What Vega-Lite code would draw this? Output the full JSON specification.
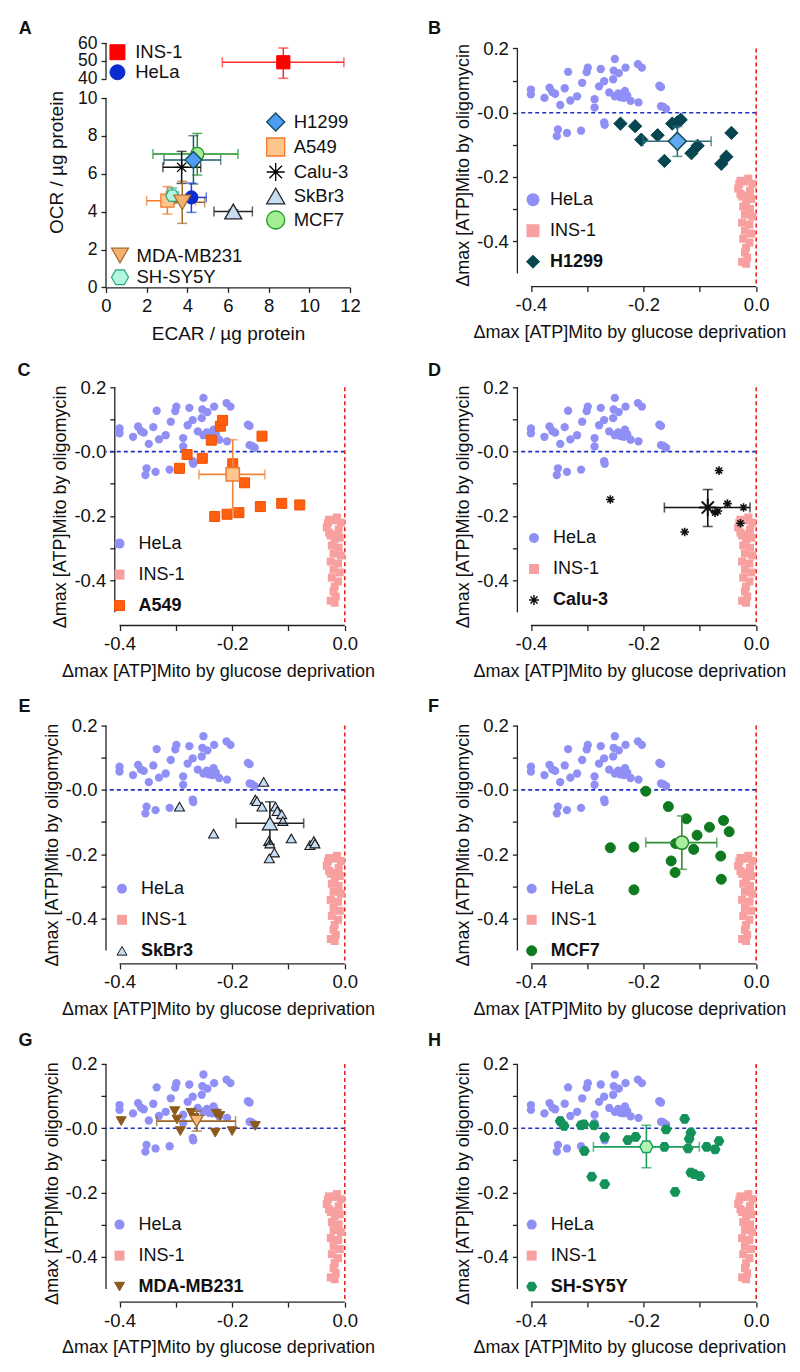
{
"$schema": "https://vega.github.io/schema/vega-lite/v6.json",
"background": "white",
"padding": {"left": 17, "top": 19, "right": 5, "bottom": 5},
"datasets": {
"hela": [
{"cell":"HeLa","x":-0.4,"y":0.072},{"cell":"HeLa","x":-0.4,"y":0.057},{"cell":"HeLa","x":-0.376,"y":0.046},{"cell":"HeLa","x":-0.367,"y":0.078},{"cell":"HeLa","x":-0.362,"y":0.064},{"cell":"HeLa","x":-0.357,"y":0.059},{"cell":"HeLa","x":-0.348,"y":0.024},{"cell":"HeLa","x":-0.34,"y":0.076},{"cell":"HeLa","x":-0.334,"y":0.127},{"cell":"HeLa","x":-0.33,"y":0.038},{"cell":"HeLa","x":-0.318,"y":0.051},{"cell":"HeLa","x":-0.309,"y":0.093},{"cell":"HeLa","x":-0.301,"y":0.126},{"cell":"HeLa","x":-0.299,"y":0.14},{"cell":"HeLa","x":-0.287,"y":0.042},{"cell":"HeLa","x":-0.287,"y":0.016},{"cell":"HeLa","x":-0.279,"y":0.082},{"cell":"HeLa","x":-0.276,"y":0.136},{"cell":"HeLa","x":-0.27,"y":0.098},{"cell":"HeLa","x":-0.261,"y":0.063},{"cell":"HeLa","x":-0.254,"y":0.104},{"cell":"HeLa","x":-0.251,"y":0.167},{"cell":"HeLa","x":-0.253,"y":0.131},{"cell":"HeLa","x":-0.251,"y":0.051},{"cell":"HeLa","x":-0.244,"y":0.123},{"cell":"HeLa","x":-0.241,"y":0.048},{"cell":"HeLa","x":-0.235,"y":0.046},{"cell":"HeLa","x":-0.232,"y":0.14},{"cell":"HeLa","x":-0.233,"y":0.068},{"cell":"HeLa","x":-0.229,"y":0.054},{"cell":"HeLa","x":-0.223,"y":0.037},{"cell":"HeLa","x":-0.21,"y":0.151},{"cell":"HeLa","x":-0.203,"y":0.14},{"cell":"HeLa","x":-0.209,"y":0.032},{"cell":"HeLa","x":-0.172,"y":0.084},{"cell":"HeLa","x":-0.169,"y":0.08},{"cell":"HeLa","x":-0.169,"y":0.02},{"cell":"HeLa","x":-0.165,"y":0.018},{"cell":"HeLa","x":-0.16,"y":0.012},{"cell":"HeLa","x":-0.27,"y":-0.03},{"cell":"HeLa","x":-0.269,"y":-0.038},{"cell":"HeLa","x":-0.352,"y":-0.052},{"cell":"HeLa","x":-0.354,"y":-0.073},{"cell":"HeLa","x":-0.336,"y":-0.063},{"cell":"HeLa","x":-0.311,"y":-0.056},{"cell":"HeLa","x":-0.245,"y":0.06},{"cell":"HeLa","x":-0.236,"y":0.058}
],
"ins1": [
{"cell":"INS-1","x":-0.028,"y":-0.212},{"cell":"INS-1","x":-0.014,"y":-0.205},{"cell":"INS-1","x":-0.007,"y":-0.221},{"cell":"INS-1","x":-0.032,"y":-0.236},{"cell":"INS-1","x":-0.011,"y":-0.243},{"cell":"INS-1","x":-0.025,"y":-0.261},{"cell":"INS-1","x":-0.009,"y":-0.268},{"cell":"INS-1","x":-0.018,"y":-0.274},{"cell":"INS-1","x":-0.023,"y":-0.292},{"cell":"INS-1","x":-0.011,"y":-0.299},{"cell":"INS-1","x":-0.02,"y":-0.317},{"cell":"INS-1","x":-0.007,"y":-0.323},{"cell":"INS-1","x":-0.025,"y":-0.342},{"cell":"INS-1","x":-0.012,"y":-0.348},{"cell":"INS-1","x":-0.02,"y":-0.367},{"cell":"INS-1","x":-0.009,"y":-0.376},{"cell":"INS-1","x":-0.023,"y":-0.392},{"cell":"INS-1","x":-0.012,"y":-0.404},{"cell":"INS-1","x":-0.018,"y":-0.42},{"cell":"INS-1","x":-0.02,"y":-0.435},{"cell":"INS-1","x":-0.016,"y":-0.451},{"cell":"INS-1","x":-0.025,"y":-0.464},{"cell":"INS-1","x":-0.018,"y":-0.47},{"cell":"INS-1","x":-0.03,"y":-0.222},{"cell":"INS-1","x":-0.021,"y":-0.214},{"cell":"INS-1","x":-0.028,"y":-0.252},{"cell":"INS-1","x":-0.016,"y":-0.258}
],
"lines": [
{"cell":"H1299","x":-0.241,"y":-0.034},{"cell":"H1299","x":-0.215,"y":-0.042},{"cell":"H1299","x":-0.204,"y":-0.084},{"cell":"H1299","x":-0.175,"y":-0.07},{"cell":"H1299","x":-0.163,"y":-0.15},{"cell":"H1299","x":-0.149,"y":-0.034},{"cell":"H1299","x":-0.14,"y":-0.03},{"cell":"H1299","x":-0.134,"y":-0.022},{"cell":"H1299","x":-0.115,"y":-0.126},{"cell":"H1299","x":-0.104,"y":-0.103},{"cell":"H1299","x":-0.062,"y":-0.159},{"cell":"H1299","x":-0.053,"y":-0.137},{"cell":"H1299","x":-0.044,"y":-0.063},
{"cell":"A549","x":-0.2935,"y":-0.052},{"cell":"A549","x":-0.28,"y":-0.009},{"cell":"A549","x":-0.253,"y":-0.021},{"cell":"A549","x":-0.237,"y":0.0355},{"cell":"A549","x":-0.221,"y":0.079},{"cell":"A549","x":-0.217,"y":0.097},{"cell":"A549","x":-0.199,"y":-0.038},{"cell":"A549","x":-0.178,"y":-0.097},{"cell":"A549","x":-0.147,"y":0.048},{"cell":"A549","x":-0.231,"y":-0.202},{"cell":"A549","x":-0.209,"y":-0.195},{"cell":"A549","x":-0.188,"y":-0.19},{"cell":"A549","x":-0.15,"y":-0.171},{"cell":"A549","x":-0.112,"y":-0.161},{"cell":"A549","x":-0.08,"y":-0.166},
{"cell":"Calu-3","x":-0.259,"y":-0.149},{"cell":"Calu-3","x":-0.127,"y":-0.25},{"cell":"Calu-3","x":-0.066,"y":-0.059},{"cell":"Calu-3","x":-0.051,"y":-0.162},{"cell":"Calu-3","x":-0.073,"y":-0.19},{"cell":"Calu-3","x":-0.068,"y":-0.185},{"cell":"Calu-3","x":-0.0225,"y":-0.174},{"cell":"Calu-3","x":-0.028,"y":-0.223},
{"cell":"SkBr3","x":-0.2935,"y":-0.052},{"cell":"SkBr3","x":-0.233,"y":-0.136},{"cell":"SkBr3","x":-0.144,"y":0.025},{"cell":"SkBr3","x":-0.159,"y":-0.03},{"cell":"SkBr3","x":-0.156,"y":-0.035},{"cell":"SkBr3","x":-0.147,"y":-0.052},{"cell":"SkBr3","x":-0.123,"y":-0.052},{"cell":"SkBr3","x":-0.12,"y":-0.066},{"cell":"SkBr3","x":-0.112,"y":-0.076},{"cell":"SkBr3","x":-0.11,"y":-0.097},{"cell":"SkBr3","x":-0.095,"y":-0.151},{"cell":"SkBr3","x":-0.135,"y":-0.159},{"cell":"SkBr3","x":-0.133,"y":-0.167},{"cell":"SkBr3","x":-0.125,"y":-0.195},{"cell":"SkBr3","x":-0.134,"y":-0.213},{"cell":"SkBr3","x":-0.062,"y":-0.172},{"cell":"SkBr3","x":-0.055,"y":-0.159},{"cell":"SkBr3","x":-0.053,"y":-0.167},
{"cell":"MCF7","x":-0.196,"y":-0.004},{"cell":"MCF7","x":-0.156,"y":-0.052},{"cell":"MCF7","x":-0.124,"y":-0.09},{"cell":"MCF7","x":-0.083,"y":-0.116},{"cell":"MCF7","x":-0.058,"y":-0.095},{"cell":"MCF7","x":-0.048,"y":-0.13},{"cell":"MCF7","x":-0.105,"y":-0.141},{"cell":"MCF7","x":-0.111,"y":-0.185},{"cell":"MCF7","x":-0.151,"y":-0.221},{"cell":"MCF7","x":-0.144,"y":-0.257},{"cell":"MCF7","x":-0.259,"y":-0.18},{"cell":"MCF7","x":-0.217,"y":-0.178},{"cell":"MCF7","x":-0.217,"y":-0.311},{"cell":"MCF7","x":-0.063,"y":-0.206},{"cell":"MCF7","x":-0.062,"y":-0.278},{"cell":"MCF7","x":-0.143,"y":-0.167},
{"cell":"MDA-MB231","x":-0.397,"y":0.022},{"cell":"MDA-MB231","x":-0.302,"y":0.053},{"cell":"MDA-MB231","x":-0.298,"y":0.027},{"cell":"MDA-MB231","x":-0.292,"y":-0.009},{"cell":"MDA-MB231","x":-0.273,"y":0.048},{"cell":"MDA-MB231","x":-0.268,"y":0.032},{"cell":"MDA-MB231","x":-0.228,"y":0.045},{"cell":"MDA-MB231","x":-0.23,"y":-0.014},{"cell":"MDA-MB231","x":-0.2,"y":-0.009},{"cell":"MDA-MB231","x":-0.159,"y":0.007},{"cell":"MDA-MB231","x":-0.222,"y":0.038},
{"cell":"SH-SY5Y","x":-0.348,"y":0.022},{"cell":"SH-SY5Y","x":-0.341,"y":0.007},{"cell":"SH-SY5Y","x":-0.311,"y":0.009},{"cell":"SH-SY5Y","x":-0.306,"y":0.012},{"cell":"SH-SY5Y","x":-0.288,"y":0.009},{"cell":"SH-SY5Y","x":-0.305,"y":-0.071},{"cell":"SH-SY5Y","x":-0.292,"y":-0.151},{"cell":"SH-SY5Y","x":-0.269,"y":-0.028},{"cell":"SH-SY5Y","x":-0.269,"y":-0.174},{"cell":"SH-SY5Y","x":-0.228,"y":-0.037},{"cell":"SH-SY5Y","x":-0.214,"y":-0.027},{"cell":"SH-SY5Y","x":-0.16,"y":-0.004},{"cell":"SH-SY5Y","x":-0.163,"y":-0.058},{"cell":"SH-SY5Y","x":-0.144,"y":-0.198},{"cell":"SH-SY5Y","x":-0.127,"y":0.029},{"cell":"SH-SY5Y","x":-0.116,"y":-0.014},{"cell":"SH-SY5Y","x":-0.119,"y":-0.033},{"cell":"SH-SY5Y","x":-0.121,"y":-0.063},{"cell":"SH-SY5Y","x":-0.116,"y":-0.138},{"cell":"SH-SY5Y","x":-0.11,"y":-0.143},{"cell":"SH-SY5Y","x":-0.1,"y":-0.149},{"cell":"SH-SY5Y","x":-0.088,"y":-0.058},{"cell":"SH-SY5Y","x":-0.073,"y":-0.066},{"cell":"SH-SY5Y","x":-0.066,"y":-0.04}
],
"means": [
{"cell":"H1299","x":-0.14,"y":-0.089,"xlo":-0.201,"xhi":-0.08,"ylo":-0.136,"yhi":-0.043},
{"cell":"A549","x":-0.199,"y":-0.071,"xlo":-0.259,"xhi":-0.142,"ylo":-0.179,"yhi":0.037},
{"cell":"Calu-3","x":-0.086,"y":-0.174,"xlo":-0.163,"xhi":-0.011,"ylo":-0.233,"yhi":-0.118},
{"cell":"SkBr3","x":-0.133,"y":-0.104,"xlo":-0.193,"xhi":-0.073,"ylo":-0.169,"yhi":-0.037},
{"cell":"MCF7","x":-0.132,"y":-0.164,"xlo":-0.196,"xhi":-0.07,"ylo":-0.247,"yhi":-0.081},
{"cell":"MDA-MB231","x":-0.263,"y":0.022,"xlo":-0.334,"xhi":-0.194,"ylo":-0.009,"yhi":0.053},
{"cell":"SH-SY5Y","x":-0.195,"y":-0.058,"xlo":-0.289,"xhi":-0.101,"ylo":-0.123,"yhi":0.009}
],
"summary": [
{"cell":"INS-1","x":8.72,"y":49.2,"xlo":5.72,"xhi":11.7,"ylo":40.2,"yhi":57.2},
{"cell":"HeLa","x":4.2,"y":4.75,"xlo":3.43,"xhi":4.93,"ylo":3.96,"yhi":5.51},
{"cell":"H1299","x":4.3,"y":6.73,"xlo":2.85,"xhi":5.64,"ylo":5.46,"yhi":8.01},
{"cell":"A549","x":3.02,"y":4.58,"xlo":2.0,"xhi":4.41,"ylo":3.87,"yhi":5.32},
{"cell":"Calu-3","x":3.72,"y":6.34,"xlo":2.8,"xhi":4.66,"ylo":5.49,"yhi":7.18},
{"cell":"SkBr3","x":6.26,"y":4.01,"xlo":5.31,"xhi":7.2,"ylo":3.9,"yhi":4.1},
{"cell":"MCF7","x":4.49,"y":7.04,"xlo":2.31,"xhi":6.49,"ylo":5.93,"yhi":8.13},
{"cell":"MDA-MB231","x":3.75,"y":4.49,"xlo":2.74,"xhi":4.85,"ylo":3.38,"yhi":5.6},
{"cell":"SH-SY5Y","x":3.26,"y":4.84,"xlo":2.96,"xhi":3.56,"ylo":4.43,"yhi":5.25}
]
},
"columns": 2,
"align": "each",
"bounds": "flush",
"spacing": {"row": 99.3, "column": 167.4},
"concat": [
{
"width": 244, "height": 244.4,
"title": {"text": "A", "dx": -87.3, "offset": -4},
"data": {"name": "summary"},
"layer": [
{"data": {"values": [{}]}, "mark": {"type": "rule", "color": "#222222", "strokeWidth": 1.3}, "encoding": {"x": {"datum": 0}, "y": {"datum": 0}, "y2": {"datum": 10}}},
{"data": {"values": [{}]}, "mark": {"type": "rule", "color": "#222222", "strokeWidth": 1.3}, "encoding": {"x": {"datum": 0}, "y": {"datum": 40}, "y2": {"datum": 60}}},
{"mark": {"type": "errorbar", "ticks": true, "size": 10, "thickness": 1.5}, "encoding": {"x": {"field": "xlo", "type": "quantitative", "title": "ECAR / µg protein"}, "x2": {"field": "xhi"}, "y": {"field": "y", "type": "quantitative", "title": "OCR / µg protein"}, "color": {"field": "cell", "type": "nominal", "scale": {"domain": ["INS-1", "HeLa", "H1299", "A549", "Calu-3", "SkBr3", "MCF7", "MDA-MB231", "SH-SY5Y"], "range": ["#FF2A2A", "#2040D8", "#1F5A6A", "#F37A2A", "#111111", "#222222", "#1E8F24", "#A3692B", "#25A878"]}, "legend": null}}},
{"mark": {"type": "errorbar", "ticks": true, "size": 10, "thickness": 1.5}, "encoding": {"x": {"field": "x", "type": "quantitative", "title": "ECAR / µg protein"}, "y": {"field": "ylo", "type": "quantitative", "title": "OCR / µg protein"}, "y2": {"field": "yhi"}, "color": {"field": "cell", "type": "nominal", "scale": {"domain": ["INS-1", "HeLa", "H1299", "A549", "Calu-3", "SkBr3", "MCF7", "MDA-MB231", "SH-SY5Y"], "range": ["#FF2A2A", "#2040D8", "#1F5A6A", "#F37A2A", "#111111", "#222222", "#1E8F24", "#A3692B", "#25A878"]}, "legend": null}}},
{"transform": [{"filter": "datum.cell === 'INS-1' || datum.cell === 'HeLa'"}],
 "encoding": {
   "shape": {"field": "cell", "type": "nominal", "scale": {"domain": ["INS-1", "HeLa"], "range": ["square", "circle"]}, "legend": {"title": null, "orient": "none", "legendX": 2.2, "legendY": 0, "rowPadding": 0, "labelOffset": 8.5, "symbolSize": 225, "labelFontSize": 18.5, "symbolStrokeWidth": 1}},
   "fill": {"field": "cell", "type": "nominal", "scale": {"domain": ["INS-1", "HeLa"], "range": ["#FF0000", "#0A2BD0"]}, "legend": {"title": null, "orient": "none", "legendX": 2.2, "legendY": 0, "rowPadding": 0, "labelOffset": 8.5, "symbolSize": 225, "labelFontSize": 18.5, "symbolStrokeWidth": 1}},
   "stroke": {"field": "cell", "type": "nominal", "scale": {"domain": ["INS-1", "HeLa"], "range": ["#FF0000", "#0A2BD0"]}, "legend": {"title": null, "orient": "none", "legendX": 2.2, "legendY": 0, "rowPadding": 0, "labelOffset": 8.5, "symbolSize": 225, "labelFontSize": 18.5, "symbolStrokeWidth": 1}}
 },
 "layer": [
 {"mark": {"type": "point", "filled": true, "opacity": 1, "size": 175, "strokeWidth": 1},
  "encoding": {
   "x": {"field": "x", "type": "quantitative", "title": "ECAR / µg protein", "scale": {"domain": [0, 12], "nice": false, "zero": false}, "axis": {"title": "ECAR / µg protein", "values": [0, 2, 4, 6, 8, 10, 12], "tickCount": 20, "format": "d", "titleFontSize": 19, "titlePadding": 10, "labelOverlap": false}},
   "y": {"field": "y", "type": "quantitative", "title": "OCR / µg protein", "scale": {"domain": [0, 10, 40, 60], "range": [244.4, 55, 35.7, 0], "nice": false, "zero": false}, "axis": {"title": "OCR / µg protein", "values": [0, 2, 4, 6, 8, 10, 40, 50, 60], "tickCount": 20, "format": "d", "labelFontSize": 17.5, "domain": false, "titleFontSize": 19, "titlePadding": 11, "labelOverlap": false, "titleY": 119}}
  }}
 ]},
{"transform": [{"filter": "indexof(['H1299','A549','Calu-3','SkBr3','MCF7'], datum.cell) >= 0"}],
 "encoding": {
   "shape": {"field": "cell", "type": "nominal", "scale": {"domain": ["H1299", "A549", "Calu-3", "SkBr3", "MCF7"], "range": ["diamond", "square", "M-1,0L1,0M0,-1L0,1M-0.7,-0.7L0.7,0.7M-0.7,0.7L0.7,-0.7", "triangle-up", "circle"]}, "legend": {"title": null, "orient": "none", "legendX": 159.7, "legendY": 69, "rowPadding": 1, "labelOffset": 8, "symbolSize": 324, "labelFontSize": 18.5, "symbolStrokeWidth": 1.3, "encode": {"symbols": {"size": {"condition": [{"test": "datum.value === 'H1299'", "value": 324}, {"test": "datum.value === 'SkBr3'", "value": 289}, {"test": "datum.value === 'Calu-3'", "value": 169}], "value": 225}}}}},
   "fill": {"field": "cell", "type": "nominal", "scale": {"domain": ["H1299", "A549", "Calu-3", "SkBr3", "MCF7"], "range": ["#4F9DF0", "#FFC58E", "transparent", "#C8DDF3", "#A3EE92"]}, "legend": {"title": null, "orient": "none", "legendX": 159.7, "legendY": 69, "rowPadding": 1, "labelOffset": 8, "symbolSize": 324, "labelFontSize": 18.5, "symbolStrokeWidth": 1.3, "encode": {"symbols": {"size": {"condition": [{"test": "datum.value === 'H1299'", "value": 324}, {"test": "datum.value === 'SkBr3'", "value": 289}, {"test": "datum.value === 'Calu-3'", "value": 169}], "value": 225}}}}},
   "stroke": {"field": "cell", "type": "nominal", "scale": {"domain": ["H1299", "A549", "Calu-3", "SkBr3", "MCF7"], "range": ["#0C4A5C", "#F37A2A", "#000000", "#222222", "#1C9A1C"]}, "legend": {"title": null, "orient": "none", "legendX": 159.7, "legendY": 69, "rowPadding": 1, "labelOffset": 8, "symbolSize": 324, "labelFontSize": 18.5, "symbolStrokeWidth": 1.3, "encode": {"symbols": {"size": {"condition": [{"test": "datum.value === 'H1299'", "value": 324}, {"test": "datum.value === 'SkBr3'", "value": 289}, {"test": "datum.value === 'Calu-3'", "value": 169}], "value": 225}}}}}
 },
 "layer": [
 {"transform": [{"filter": "datum.cell === 'MCF7'"}], "mark": {"type": "point", "filled": true, "opacity": 1, "size": 175, "strokeWidth": 1.3}, "encoding": {"x": {"field": "x", "type": "quantitative", "title": "ECAR / µg protein"}, "y": {"field": "y", "type": "quantitative", "title": "OCR / µg protein"}}},
 {"transform": [{"filter": "datum.cell === 'H1299' || datum.cell === 'SkBr3'"}], "mark": {"type": "point", "filled": true, "opacity": 1, "size": 289, "strokeWidth": 1.3}, "encoding": {"x": {"field": "x", "type": "quantitative", "title": "ECAR / µg protein"}, "y": {"field": "y", "type": "quantitative", "title": "OCR / µg protein"}}},
 {"transform": [{"filter": "datum.cell === 'A549' || datum.cell === 'Calu-3'"}], "mark": {"type": "point", "filled": true, "opacity": 1, "size": 170, "strokeWidth": 1.3}, "encoding": {"x": {"field": "x", "type": "quantitative", "title": "ECAR / µg protein"}, "y": {"field": "y", "type": "quantitative", "title": "OCR / µg protein"}}}
 ]},
{"transform": [{"filter": "datum.cell === 'MDA-MB231' || datum.cell === 'SH-SY5Y'"}],
 "encoding": {
   "shape": {"field": "cell", "type": "nominal", "scale": {"domain": ["MDA-MB231", "SH-SY5Y"], "range": ["triangle-down", "M-1,0L-0.5,-0.866L0.5,-0.866L1,0L0.5,0.866L-0.5,0.866Z"]}, "legend": {"title": null, "orient": "none", "legendX": 4.5, "legendY": 203, "rowPadding": 0.7, "labelOffset": 7, "symbolSize": 289, "labelFontSize": 18.5, "symbolStrokeWidth": 1.2, "encode": {"symbols": {"size": {"condition": {"test": "datum.value === 'MDA-MB231'", "value": 289}, "value": 225}}}}},
   "fill": {"field": "cell", "type": "nominal", "scale": {"domain": ["MDA-MB231", "SH-SY5Y"], "range": ["#F2B26E", "#B4F5E0"]}, "legend": {"title": null, "orient": "none", "legendX": 4.5, "legendY": 203, "rowPadding": 0.7, "labelOffset": 7, "symbolSize": 289, "labelFontSize": 18.5, "symbolStrokeWidth": 1.2, "encode": {"symbols": {"size": {"condition": {"test": "datum.value === 'MDA-MB231'", "value": 289}, "value": 225}}}}},
   "stroke": {"field": "cell", "type": "nominal", "scale": {"domain": ["MDA-MB231", "SH-SY5Y"], "range": ["#A3692B", "#25A878"]}, "legend": {"title": null, "orient": "none", "legendX": 4.5, "legendY": 203, "rowPadding": 0.7, "labelOffset": 7, "symbolSize": 289, "labelFontSize": 18.5, "symbolStrokeWidth": 1.2, "encode": {"symbols": {"size": {"condition": {"test": "datum.value === 'MDA-MB231'", "value": 289}, "value": 225}}}}}
 },
 "layer": [
 {"transform": [{"filter": "datum.cell === 'SH-SY5Y'"}], "mark": {"type": "point", "filled": true, "opacity": 1, "size": 175, "strokeWidth": 1.2}, "encoding": {"x": {"field": "x", "type": "quantitative", "title": "ECAR / µg protein"}, "y": {"field": "y", "type": "quantitative", "title": "OCR / µg protein"}}},
 {"transform": [{"filter": "datum.cell === 'MDA-MB231'"}], "mark": {"type": "point", "filled": true, "opacity": 1, "size": 289, "strokeWidth": 1.2}, "encoding": {"x": {"field": "x", "type": "quantitative", "title": "ECAR / µg protein"}, "y": {"field": "y", "type": "quantitative", "title": "OCR / µg protein"}}}
 ]}
],
"resolve": {"scale": {"shape": "independent", "fill": "independent", "stroke": "independent", "color": "independent"}, "legend": {"shape": "independent", "fill": "independent", "stroke": "independent", "color": "independent"}}
},
{
"width": 238.8, "height": 243.6,
"title": {"text": "B", "dx": -89.5, "offset": 1.5},
"layer": [
{"data": {"values": [{}]}, "mark": {"type": "rule", "color": "#222222", "strokeWidth": 1.3}, "encoding": {"x": {"datum": -0.424}, "y": {"datum": 0.2}, "y2": {"datum": -0.5}}},
{"data": {"values": [{}]}, "mark": {"type": "rule", "color": "#222222", "strokeWidth": 1.3}, "encoding": {"x": {"datum": -0.4}, "x2": {"datum": 0}, "y": {"datum": -0.541}}},
{"data": {"values": [{}]}, "mark": {"type": "rule", "color": "#1E2FC4", "strokeWidth": 1.6, "strokeDash": [4, 3]}, "encoding": {"y": {"datum": 0}}},
{"data": {"values": [{}]}, "mark": {"type": "rule", "color": "#E8261F", "strokeWidth": 1.6, "strokeDash": [4, 3]}, "encoding": {"x": {"datum": 0}, "y": {"datum": 0.2}, "y2": {"datum": -0.541}}},
{"encoding": {
  "x": {"field": "x", "type": "quantitative", "title": "Δmax [ATP]Mito by glucose deprivation", "scale": {"domain": [-0.424, 0], "nice": false, "zero": false}, "axis": {"title": "Δmax [ATP]Mito by glucose deprivation", "values": [-0.4, -0.3, -0.2, -0.1, 0], "tickCount": 20, "labelExpr": "datum.value == -0.4 ? '-0.4' : datum.value == -0.2 ? '-0.2' : datum.value == 0 ? '0.0' : ''", "domain": false, "titlePadding": 9, "titleX": 112}},
  "y": {"field": "y", "type": "quantitative", "title": "Δmax [ATP]Mito by oligomycin", "scale": {"domain": [-0.541, 0.2168], "nice": false, "zero": false}, "axis": {"title": "Δmax [ATP]Mito by oligomycin", "values": [-0.4, -0.3, -0.2, -0.1, 0, 0.1, 0.2], "tickCount": 20, "labelExpr": "datum.value == 0.2 ? '0.2' : datum.value == 0 ? '-0.0' : datum.value == -0.2 ? '-0.2' : datum.value == -0.4 ? '-0.4' : ''", "domain": false, "titlePadding": 4}},
  "shape": {"field": "cell", "type": "nominal", "scale": {"domain": ["HeLa", "INS-1", "H1299"], "range": ["circle", "square", "diamond"]}, "legend": {"title": null, "orient": "none", "legendX": 6.6, "legendY": 147.7, "symbolSize": 169, "labelOffset": 8, "labelFontWeight": {"expr": "datum.value === 'HeLa' || datum.value === 'INS-1' ? 'normal' : 'bold'"}, "encode": {"symbols": {"size": {"condition": [{"test": "datum.value === 'HeLa'", "value": 64}, {"test": "datum.value === 'INS-1'", "value": 56}], "value": 169}}}}},
  "fill": {"field": "cell", "type": "nominal", "scale": {"domain": ["HeLa", "INS-1", "H1299"], "range": ["#8F8FF5", "#F8A0A0", "#074650"]}, "legend": {"title": null, "orient": "none", "legendX": 6.6, "legendY": 147.7, "symbolSize": 169, "labelOffset": 8, "labelFontWeight": {"expr": "datum.value === 'HeLa' || datum.value === 'INS-1' ? 'normal' : 'bold'"}, "encode": {"symbols": {"size": {"condition": [{"test": "datum.value === 'HeLa'", "value": 64}, {"test": "datum.value === 'INS-1'", "value": 56}], "value": 169}}}}},
  "stroke": {"field": "cell", "type": "nominal", "scale": {"domain": ["HeLa", "INS-1", "H1299"], "range": ["transparent", "transparent", "#074650"]}, "legend": {"title": null, "orient": "none", "legendX": 6.6, "legendY": 147.7, "symbolSize": 169, "labelOffset": 8, "labelFontWeight": {"expr": "datum.value === 'HeLa' || datum.value === 'INS-1' ? 'normal' : 'bold'"}, "encode": {"symbols": {"size": {"condition": [{"test": "datum.value === 'HeLa'", "value": 64}, {"test": "datum.value === 'INS-1'", "value": 56}], "value": 169}}}}}
 },
 "layer": [
  {"data": {"name": "hela"}, "mark": {"type": "point", "filled": true, "opacity": 1, "size": 69, "strokeWidth": 0}},
  {"data": {"name": "ins1"}, "mark": {"type": "point", "filled": true, "opacity": 1, "size": 64, "strokeWidth": 0}},
  {"data": {"name": "lines"}, "transform": [{"filter": "datum.cell === 'H1299'"}], "mark": {"type": "point", "filled": true, "opacity": 1, "size": 177, "strokeWidth": 1}}
 ]},
{"data": {"name": "means"}, "transform": [{"filter": "datum.cell === 'H1299'"}], "mark": {"type": "errorbar", "ticks": true, "size": 10, "thickness": 1.6, "color": "#2F6B78"}, "encoding": {"x": {"field": "xlo", "type": "quantitative", "title": "Δmax [ATP]Mito by glucose deprivation"}, "x2": {"field": "xhi"}, "y": {"field": "y", "type": "quantitative", "title": "Δmax [ATP]Mito by oligomycin"}}},
{"data": {"name": "means"}, "transform": [{"filter": "datum.cell === 'H1299'"}], "mark": {"type": "errorbar", "ticks": true, "size": 10, "thickness": 1.6, "color": "#2F6B78"}, "encoding": {"x": {"field": "x", "type": "quantitative", "title": "Δmax [ATP]Mito by glucose deprivation"}, "y": {"field": "ylo", "type": "quantitative", "title": "Δmax [ATP]Mito by oligomycin"}, "y2": {"field": "yhi"}}},
{"data": {"name": "means"}, "transform": [{"filter": "datum.cell === 'H1299'"}], "mark": {"type": "point", "filled": true, "opacity": 1, "shape": "diamond", "size": 324, "fill": "#5FA8F0", "stroke": "#0B4A55", "strokeWidth": 1.5}, "encoding": {"x": {"field": "x", "type": "quantitative", "title": "Δmax [ATP]Mito by glucose deprivation"}, "y": {"field": "y", "type": "quantitative", "title": "Δmax [ATP]Mito by oligomycin"}}}
]
},
{
"width": 238.8, "height": 238.2,
"title": {"text": "C", "dx": -88.5, "offset": -1.2},
"layer": [
{"data": {"values": [{}]}, "mark": {"type": "rule", "color": "#222222", "strokeWidth": 1.3}, "encoding": {"x": {"datum": -0.4084}, "y": {"datum": 0.2}, "y2": {"datum": -0.5}}},
{"data": {"values": [{}]}, "mark": {"type": "rule", "color": "#222222", "strokeWidth": 1.3}, "encoding": {"x": {"datum": -0.4}, "x2": {"datum": 0}, "y": {"datum": -0.541}}},
{"data": {"values": [{}]}, "mark": {"type": "rule", "color": "#1E2FC4", "strokeWidth": 1.6, "strokeDash": [4, 3]}, "encoding": {"y": {"datum": 0}}},
{"data": {"values": [{}]}, "mark": {"type": "rule", "color": "#E8261F", "strokeWidth": 1.6, "strokeDash": [4, 3]}, "encoding": {"x": {"datum": 0}, "y": {"datum": 0.2}, "y2": {"datum": -0.541}}},
{"encoding": {
  "x": {"field": "x", "type": "quantitative", "title": "Δmax [ATP]Mito by glucose deprivation", "scale": {"domain": [-0.424, 0], "nice": false, "zero": false}, "axis": {"title": "Δmax [ATP]Mito by glucose deprivation", "values": [-0.4, -0.3, -0.2, -0.1, 0], "tickCount": 20, "labelExpr": "datum.value == -0.4 ? '-0.4' : datum.value == -0.2 ? '-0.2' : datum.value == 0 ? '0.0' : ''", "domain": false, "titlePadding": 9, "titleX": 112}},
  "y": {"field": "y", "type": "quantitative", "title": "Δmax [ATP]Mito by oligomycin", "scale": {"domain": [-0.541, 0.2], "nice": false, "zero": false}, "axis": {"title": "Δmax [ATP]Mito by oligomycin", "values": [-0.4, -0.3, -0.2, -0.1, 0, 0.1, 0.2], "tickCount": 20, "labelExpr": "datum.value == 0.2 ? '0.2' : datum.value == 0 ? '-0.0' : datum.value == -0.2 ? '-0.2' : datum.value == -0.4 ? '-0.4' : ''", "domain": false, "titlePadding": 4, "offset": -8.8}},
  "shape": {"field": "cell", "type": "nominal", "scale": {"domain": ["HeLa", "INS-1", "A549"], "range": ["circle", "square", "square"]}, "legend": {"title": null, "orient": "none", "legendX": 4.5, "legendY": 147.3, "symbolSize": 100, "labelOffset": 10, "labelFontWeight": {"expr": "datum.value === 'HeLa' || datum.value === 'INS-1' ? 'normal' : 'bold'"}, "encode": {"symbols": {"size": {"condition": [{"test": "datum.value === 'HeLa'", "value": 64}, {"test": "datum.value === 'INS-1'", "value": 56}], "value": 100}}}}},
  "fill": {"field": "cell", "type": "nominal", "scale": {"domain": ["HeLa", "INS-1", "A549"], "range": ["#8F8FF5", "#F8A0A0", "#FF5F0F"]}, "legend": {"title": null, "orient": "none", "legendX": 4.5, "legendY": 147.3, "symbolSize": 100, "labelOffset": 10, "labelFontWeight": {"expr": "datum.value === 'HeLa' || datum.value === 'INS-1' ? 'normal' : 'bold'"}, "encode": {"symbols": {"size": {"condition": [{"test": "datum.value === 'HeLa'", "value": 64}, {"test": "datum.value === 'INS-1'", "value": 56}], "value": 100}}}}},
  "stroke": {"field": "cell", "type": "nominal", "scale": {"domain": ["HeLa", "INS-1", "A549"], "range": ["transparent", "transparent", "#EE5200"]}, "legend": {"title": null, "orient": "none", "legendX": 4.5, "legendY": 147.3, "symbolSize": 100, "labelOffset": 10, "labelFontWeight": {"expr": "datum.value === 'HeLa' || datum.value === 'INS-1' ? 'normal' : 'bold'"}, "encode": {"symbols": {"size": {"condition": [{"test": "datum.value === 'HeLa'", "value": 64}, {"test": "datum.value === 'INS-1'", "value": 56}], "value": 100}}}}}
 },
 "layer": [
  {"data": {"name": "hela"}, "mark": {"type": "point", "filled": true, "opacity": 1, "size": 69, "strokeWidth": 0}},
  {"data": {"name": "ins1"}, "mark": {"type": "point", "filled": true, "opacity": 1, "size": 64, "strokeWidth": 0}},
  {"data": {"name": "lines"}, "transform": [{"filter": "datum.cell === 'A549'"}], "mark": {"type": "point", "filled": true, "opacity": 1, "size": 100, "strokeWidth": 1}}
 ]},
{"data": {"name": "means"}, "transform": [{"filter": "datum.cell === 'A549'"}], "mark": {"type": "errorbar", "ticks": true, "size": 10, "thickness": 1.6, "color": "#F0843C"}, "encoding": {"x": {"field": "xlo", "type": "quantitative", "title": "Δmax [ATP]Mito by glucose deprivation"}, "x2": {"field": "xhi"}, "y": {"field": "y", "type": "quantitative", "title": "Δmax [ATP]Mito by oligomycin"}}},
{"data": {"name": "means"}, "transform": [{"filter": "datum.cell === 'A549'"}], "mark": {"type": "errorbar", "ticks": true, "size": 10, "thickness": 1.6, "color": "#F0843C"}, "encoding": {"x": {"field": "x", "type": "quantitative", "title": "Δmax [ATP]Mito by glucose deprivation"}, "y": {"field": "ylo", "type": "quantitative", "title": "Δmax [ATP]Mito by oligomycin"}, "y2": {"field": "yhi"}}},
{"data": {"name": "means"}, "transform": [{"filter": "datum.cell === 'A549'"}], "mark": {"type": "point", "filled": true, "opacity": 1, "shape": "square", "size": 177, "fill": "#FFC690", "stroke": "#F07A30", "strokeWidth": 1.5}, "encoding": {"x": {"field": "x", "type": "quantitative", "title": "Δmax [ATP]Mito by glucose deprivation"}, "y": {"field": "y", "type": "quantitative", "title": "Δmax [ATP]Mito by oligomycin"}}}
]
},
{
"width": 238.8, "height": 238.2,
"title": {"text": "D", "dx": -89.5, "offset": -1.2},
"layer": [
{"data": {"values": [{}]}, "mark": {"type": "rule", "color": "#222222", "strokeWidth": 1.3}, "encoding": {"x": {"datum": -0.424}, "y": {"datum": 0.2}, "y2": {"datum": -0.5}}},
{"data": {"values": [{}]}, "mark": {"type": "rule", "color": "#222222", "strokeWidth": 1.3}, "encoding": {"x": {"datum": -0.4}, "x2": {"datum": 0}, "y": {"datum": -0.541}}},
{"data": {"values": [{}]}, "mark": {"type": "rule", "color": "#1E2FC4", "strokeWidth": 1.6, "strokeDash": [4, 3]}, "encoding": {"y": {"datum": 0}}},
{"data": {"values": [{}]}, "mark": {"type": "rule", "color": "#E8261F", "strokeWidth": 1.6, "strokeDash": [4, 3]}, "encoding": {"x": {"datum": 0}, "y": {"datum": 0.2}, "y2": {"datum": -0.541}}},
{"encoding": {
  "x": {"field": "x", "type": "quantitative", "title": "Δmax [ATP]Mito by glucose deprivation", "scale": {"domain": [-0.424, 0], "nice": false, "zero": false}, "axis": {"title": "Δmax [ATP]Mito by glucose deprivation", "values": [-0.4, -0.3, -0.2, -0.1, 0], "tickCount": 20, "labelExpr": "datum.value == -0.4 ? '-0.4' : datum.value == -0.2 ? '-0.2' : datum.value == 0 ? '0.0' : ''", "domain": false, "titlePadding": 9, "titleX": 112}},
  "y": {"field": "y", "type": "quantitative", "title": "Δmax [ATP]Mito by oligomycin", "scale": {"domain": [-0.541, 0.2], "nice": false, "zero": false}, "axis": {"title": "Δmax [ATP]Mito by oligomycin", "values": [-0.4, -0.3, -0.2, -0.1, 0, 0.1, 0.2], "tickCount": 20, "labelExpr": "datum.value == 0.2 ? '0.2' : datum.value == 0 ? '-0.0' : datum.value == -0.2 ? '-0.2' : datum.value == -0.4 ? '-0.4' : ''", "domain": false, "titlePadding": 4}},
  "shape": {"field": "cell", "type": "nominal", "scale": {"domain": ["HeLa", "INS-1", "Calu-3"], "range": ["circle", "square", "M-1,0L1,0M0,-1L0,1M-0.7,-0.7L0.7,0.7M-0.7,0.7L0.7,-0.7"]}, "legend": {"title": null, "orient": "none", "legendX": 7.6, "legendY": 141.7, "symbolSize": 100, "labelOffset": 10, "symbolStrokeWidth": 1.5, "labelFontWeight": {"expr": "datum.value === 'HeLa' || datum.value === 'INS-1' ? 'normal' : 'bold'"}, "encode": {"symbols": {"size": {"condition": [{"test": "datum.value === 'HeLa'", "value": 64}, {"test": "datum.value === 'INS-1'", "value": 56}], "value": 75}}}}},
  "fill": {"field": "cell", "type": "nominal", "scale": {"domain": ["HeLa", "INS-1", "Calu-3"], "range": ["#8F8FF5", "#F8A0A0", "transparent"]}, "legend": {"title": null, "orient": "none", "legendX": 7.6, "legendY": 141.7, "symbolSize": 100, "labelOffset": 10, "symbolStrokeWidth": 1.5, "labelFontWeight": {"expr": "datum.value === 'HeLa' || datum.value === 'INS-1' ? 'normal' : 'bold'"}, "encode": {"symbols": {"size": {"condition": [{"test": "datum.value === 'HeLa'", "value": 64}, {"test": "datum.value === 'INS-1'", "value": 56}], "value": 75}}}}},
  "stroke": {"field": "cell", "type": "nominal", "scale": {"domain": ["HeLa", "INS-1", "Calu-3"], "range": ["transparent", "transparent", "#111111"]}, "legend": {"title": null, "orient": "none", "legendX": 7.6, "legendY": 141.7, "symbolSize": 100, "labelOffset": 10, "symbolStrokeWidth": 1.5, "labelFontWeight": {"expr": "datum.value === 'HeLa' || datum.value === 'INS-1' ? 'normal' : 'bold'"}, "encode": {"symbols": {"size": {"condition": [{"test": "datum.value === 'HeLa'", "value": 64}, {"test": "datum.value === 'INS-1'", "value": 56}], "value": 75}}}}}
 },
 "layer": [
  {"data": {"name": "hela"}, "mark": {"type": "point", "filled": true, "opacity": 1, "size": 69, "strokeWidth": 0}},
  {"data": {"name": "ins1"}, "mark": {"type": "point", "filled": true, "opacity": 1, "size": 64, "strokeWidth": 0}},
  {"data": {"name": "lines"}, "transform": [{"filter": "datum.cell === 'Calu-3'"}], "mark": {"type": "point", "filled": true, "opacity": 1, "size": 75, "strokeWidth": 1.6}}
 ]},
{"data": {"name": "means"}, "transform": [{"filter": "datum.cell === 'Calu-3'"}], "mark": {"type": "errorbar", "ticks": true, "size": 10, "thickness": 1.6, "color": "#111111"}, "encoding": {"x": {"field": "xlo", "type": "quantitative", "title": "Δmax [ATP]Mito by glucose deprivation"}, "x2": {"field": "xhi"}, "y": {"field": "y", "type": "quantitative", "title": "Δmax [ATP]Mito by oligomycin"}}},
{"data": {"name": "means"}, "transform": [{"filter": "datum.cell === 'Calu-3'"}], "mark": {"type": "errorbar", "ticks": true, "size": 10, "thickness": 1.6, "color": "#111111"}, "encoding": {"x": {"field": "x", "type": "quantitative", "title": "Δmax [ATP]Mito by glucose deprivation"}, "y": {"field": "ylo", "type": "quantitative", "title": "Δmax [ATP]Mito by oligomycin"}, "y2": {"field": "yhi"}}},
{"data": {"name": "means"}, "transform": [{"filter": "datum.cell === 'Calu-3'"}], "mark": {"type": "point", "filled": true, "opacity": 1, "shape": "M-1,0L1,0M0,-1L0,1M-0.7,-0.7L0.7,0.7M-0.7,0.7L0.7,-0.7", "size": 300, "fill": "transparent", "stroke": "#111111", "strokeWidth": 2}, "encoding": {"x": {"field": "x", "type": "quantitative", "title": "Δmax [ATP]Mito by glucose deprivation"}, "y": {"field": "y", "type": "quantitative", "title": "Δmax [ATP]Mito by oligomycin"}}}
]
},
{
"width": 238.8, "height": 238.2,
"title": {"text": "E", "dx": -87.5, "offset": 0.6},
"layer": [
{"data": {"values": [{}]}, "mark": {"type": "rule", "color": "#222222", "strokeWidth": 1.3}, "encoding": {"x": {"datum": -0.424}, "y": {"datum": 0.2}, "y2": {"datum": -0.5}}},
{"data": {"values": [{}]}, "mark": {"type": "rule", "color": "#222222", "strokeWidth": 1.3}, "encoding": {"x": {"datum": -0.4}, "x2": {"datum": 0}, "y": {"datum": -0.541}}},
{"data": {"values": [{}]}, "mark": {"type": "rule", "color": "#1E2FC4", "strokeWidth": 1.6, "strokeDash": [4, 3]}, "encoding": {"y": {"datum": 0}}},
{"data": {"values": [{}]}, "mark": {"type": "rule", "color": "#E8261F", "strokeWidth": 1.6, "strokeDash": [4, 3]}, "encoding": {"x": {"datum": 0}, "y": {"datum": 0.2}, "y2": {"datum": -0.541}}},
{"encoding": {
  "x": {"field": "x", "type": "quantitative", "title": "Δmax [ATP]Mito by glucose deprivation", "scale": {"domain": [-0.424, 0], "nice": false, "zero": false}, "axis": {"title": "Δmax [ATP]Mito by glucose deprivation", "values": [-0.4, -0.3, -0.2, -0.1, 0], "tickCount": 20, "labelExpr": "datum.value == -0.4 ? '-0.4' : datum.value == -0.2 ? '-0.2' : datum.value == 0 ? '0.0' : ''", "domain": false, "titlePadding": 9, "titleX": 112}},
  "y": {"field": "y", "type": "quantitative", "title": "Δmax [ATP]Mito by oligomycin", "scale": {"domain": [-0.541, 0.2], "nice": false, "zero": false}, "axis": {"title": "Δmax [ATP]Mito by oligomycin", "values": [-0.4, -0.3, -0.2, -0.1, 0, 0.1, 0.2], "tickCount": 20, "labelExpr": "datum.value == 0.2 ? '0.2' : datum.value == 0 ? '-0.0' : datum.value == -0.2 ? '-0.2' : datum.value == -0.4 ? '-0.4' : ''", "domain": false, "titlePadding": 4}},
  "shape": {"field": "cell", "type": "nominal", "scale": {"domain": ["HeLa", "INS-1", "SkBr3"], "range": ["circle", "square", "triangle-up"]}, "legend": {"title": null, "orient": "none", "legendX": 7, "legendY": 154.2, "symbolSize": 100, "labelOffset": 10, "labelFontWeight": {"expr": "datum.value === 'HeLa' || datum.value === 'INS-1' ? 'normal' : 'bold'"}, "encode": {"symbols": {"size": {"condition": [{"test": "datum.value === 'HeLa'", "value": 64}, {"test": "datum.value === 'INS-1'", "value": 56}], "value": 100}}}}},
  "fill": {"field": "cell", "type": "nominal", "scale": {"domain": ["HeLa", "INS-1", "SkBr3"], "range": ["#8F8FF5", "#F8A0A0", "#C5DDF5"]}, "legend": {"title": null, "orient": "none", "legendX": 7, "legendY": 154.2, "symbolSize": 100, "labelOffset": 10, "labelFontWeight": {"expr": "datum.value === 'HeLa' || datum.value === 'INS-1' ? 'normal' : 'bold'"}, "encode": {"symbols": {"size": {"condition": [{"test": "datum.value === 'HeLa'", "value": 64}, {"test": "datum.value === 'INS-1'", "value": 56}], "value": 100}}}}},
  "stroke": {"field": "cell", "type": "nominal", "scale": {"domain": ["HeLa", "INS-1", "SkBr3"], "range": ["transparent", "transparent", "#1A1A1A"]}, "legend": {"title": null, "orient": "none", "legendX": 7, "legendY": 154.2, "symbolSize": 100, "labelOffset": 10, "labelFontWeight": {"expr": "datum.value === 'HeLa' || datum.value === 'INS-1' ? 'normal' : 'bold'"}, "encode": {"symbols": {"size": {"condition": [{"test": "datum.value === 'HeLa'", "value": 64}, {"test": "datum.value === 'INS-1'", "value": 56}], "value": 100}}}}}
 },
 "layer": [
  {"data": {"name": "hela"}, "mark": {"type": "point", "filled": true, "opacity": 1, "size": 69, "strokeWidth": 0}},
  {"data": {"name": "ins1"}, "mark": {"type": "point", "filled": true, "opacity": 1, "size": 64, "strokeWidth": 0}},
  {"data": {"name": "lines"}, "transform": [{"filter": "datum.cell === 'SkBr3'"}], "mark": {"type": "point", "filled": true, "opacity": 1, "size": 100, "strokeWidth": 1.1}}
 ]},
{"data": {"name": "means"}, "transform": [{"filter": "datum.cell === 'SkBr3'"}], "mark": {"type": "errorbar", "ticks": true, "size": 10, "thickness": 1.6, "color": "#222222"}, "encoding": {"x": {"field": "xlo", "type": "quantitative", "title": "Δmax [ATP]Mito by glucose deprivation"}, "x2": {"field": "xhi"}, "y": {"field": "y", "type": "quantitative", "title": "Δmax [ATP]Mito by oligomycin"}}},
{"data": {"name": "means"}, "transform": [{"filter": "datum.cell === 'SkBr3'"}], "mark": {"type": "errorbar", "ticks": true, "size": 10, "thickness": 1.6, "color": "#222222"}, "encoding": {"x": {"field": "x", "type": "quantitative", "title": "Δmax [ATP]Mito by glucose deprivation"}, "y": {"field": "ylo", "type": "quantitative", "title": "Δmax [ATP]Mito by oligomycin"}, "y2": {"field": "yhi"}}},
{"data": {"name": "means"}, "transform": [{"filter": "datum.cell === 'SkBr3'"}], "mark": {"type": "point", "filled": true, "opacity": 1, "shape": "triangle-up", "size": 225, "fill": "#C5DDF5", "stroke": "#1A1A1A", "strokeWidth": 1.2}, "encoding": {"x": {"field": "x", "type": "quantitative", "title": "Δmax [ATP]Mito by glucose deprivation"}, "y": {"field": "y", "type": "quantitative", "title": "Δmax [ATP]Mito by oligomycin"}}}
]
},
{
"width": 238.8, "height": 238.2,
"title": {"text": "F", "dx": -89.5, "offset": 0.6},
"layer": [
{"data": {"values": [{}]}, "mark": {"type": "rule", "color": "#222222", "strokeWidth": 1.3}, "encoding": {"x": {"datum": -0.424}, "y": {"datum": 0.2}, "y2": {"datum": -0.5}}},
{"data": {"values": [{}]}, "mark": {"type": "rule", "color": "#222222", "strokeWidth": 1.3}, "encoding": {"x": {"datum": -0.4}, "x2": {"datum": 0}, "y": {"datum": -0.541}}},
{"data": {"values": [{}]}, "mark": {"type": "rule", "color": "#1E2FC4", "strokeWidth": 1.6, "strokeDash": [4, 3]}, "encoding": {"y": {"datum": 0}}},
{"data": {"values": [{}]}, "mark": {"type": "rule", "color": "#E8261F", "strokeWidth": 1.6, "strokeDash": [4, 3]}, "encoding": {"x": {"datum": 0}, "y": {"datum": 0.2}, "y2": {"datum": -0.541}}},
{"encoding": {
  "x": {"field": "x", "type": "quantitative", "title": "Δmax [ATP]Mito by glucose deprivation", "scale": {"domain": [-0.424, 0], "nice": false, "zero": false}, "axis": {"title": "Δmax [ATP]Mito by glucose deprivation", "values": [-0.4, -0.3, -0.2, -0.1, 0], "tickCount": 20, "labelExpr": "datum.value == -0.4 ? '-0.4' : datum.value == -0.2 ? '-0.2' : datum.value == 0 ? '0.0' : ''", "domain": false, "titlePadding": 9, "titleX": 112}},
  "y": {"field": "y", "type": "quantitative", "title": "Δmax [ATP]Mito by oligomycin", "scale": {"domain": [-0.541, 0.2], "nice": false, "zero": false}, "axis": {"title": "Δmax [ATP]Mito by oligomycin", "values": [-0.4, -0.3, -0.2, -0.1, 0, 0.1, 0.2], "tickCount": 20, "labelExpr": "datum.value == 0.2 ? '0.2' : datum.value == 0 ? '-0.0' : datum.value == -0.2 ? '-0.2' : datum.value == -0.4 ? '-0.4' : ''", "domain": false, "titlePadding": 4}},
  "shape": {"field": "cell", "type": "nominal", "scale": {"domain": ["HeLa", "INS-1", "MCF7"], "range": ["circle", "square", "circle"]}, "legend": {"title": null, "orient": "none", "legendX": 5.3, "legendY": 154.2, "symbolSize": 100, "labelOffset": 10, "labelFontWeight": {"expr": "datum.value === 'HeLa' || datum.value === 'INS-1' ? 'normal' : 'bold'"}, "encode": {"symbols": {"size": {"condition": [{"test": "datum.value === 'HeLa'", "value": 64}, {"test": "datum.value === 'INS-1'", "value": 56}], "value": 100}}}}},
  "fill": {"field": "cell", "type": "nominal", "scale": {"domain": ["HeLa", "INS-1", "MCF7"], "range": ["#8F8FF5", "#F8A0A0", "#0E7A20"]}, "legend": {"title": null, "orient": "none", "legendX": 5.3, "legendY": 154.2, "symbolSize": 100, "labelOffset": 10, "labelFontWeight": {"expr": "datum.value === 'HeLa' || datum.value === 'INS-1' ? 'normal' : 'bold'"}, "encode": {"symbols": {"size": {"condition": [{"test": "datum.value === 'HeLa'", "value": 64}, {"test": "datum.value === 'INS-1'", "value": 56}], "value": 100}}}}},
  "stroke": {"field": "cell", "type": "nominal", "scale": {"domain": ["HeLa", "INS-1", "MCF7"], "range": ["transparent", "transparent", "#0E7A20"]}, "legend": {"title": null, "orient": "none", "legendX": 5.3, "legendY": 154.2, "symbolSize": 100, "labelOffset": 10, "labelFontWeight": {"expr": "datum.value === 'HeLa' || datum.value === 'INS-1' ? 'normal' : 'bold'"}, "encode": {"symbols": {"size": {"condition": [{"test": "datum.value === 'HeLa'", "value": 64}, {"test": "datum.value === 'INS-1'", "value": 56}], "value": 100}}}}}
 },
 "layer": [
  {"data": {"name": "hela"}, "mark": {"type": "point", "filled": true, "opacity": 1, "size": 69, "strokeWidth": 0}},
  {"data": {"name": "ins1"}, "mark": {"type": "point", "filled": true, "opacity": 1, "size": 64, "strokeWidth": 0}},
  {"data": {"name": "lines"}, "transform": [{"filter": "datum.cell === 'MCF7'"}], "mark": {"type": "point", "filled": true, "opacity": 1, "size": 100, "strokeWidth": 1}}
 ]},
{"data": {"name": "means"}, "transform": [{"filter": "datum.cell === 'MCF7'"}], "mark": {"type": "errorbar", "ticks": true, "size": 10, "thickness": 1.6, "color": "#2E8B36"}, "encoding": {"x": {"field": "xlo", "type": "quantitative", "title": "Δmax [ATP]Mito by glucose deprivation"}, "x2": {"field": "xhi"}, "y": {"field": "y", "type": "quantitative", "title": "Δmax [ATP]Mito by oligomycin"}}},
{"data": {"name": "means"}, "transform": [{"filter": "datum.cell === 'MCF7'"}], "mark": {"type": "errorbar", "ticks": true, "size": 10, "thickness": 1.6, "color": "#2E8B36"}, "encoding": {"x": {"field": "x", "type": "quantitative", "title": "Δmax [ATP]Mito by glucose deprivation"}, "y": {"field": "ylo", "type": "quantitative", "title": "Δmax [ATP]Mito by oligomycin"}, "y2": {"field": "yhi"}}},
{"data": {"name": "means"}, "transform": [{"filter": "datum.cell === 'MCF7'"}], "mark": {"type": "point", "filled": true, "opacity": 1, "shape": "circle", "size": 180, "fill": "#A8F0A0", "stroke": "#2A8A30", "strokeWidth": 1.5}, "encoding": {"x": {"field": "x", "type": "quantitative", "title": "Δmax [ATP]Mito by glucose deprivation"}, "y": {"field": "y", "type": "quantitative", "title": "Δmax [ATP]Mito by oligomycin"}}}
]
},
{
"width": 238.8, "height": 238.2,
"title": {"text": "G", "dx": -87.5, "offset": 4.8},
"layer": [
{"data": {"values": [{}]}, "mark": {"type": "rule", "color": "#222222", "strokeWidth": 1.3}, "encoding": {"x": {"datum": -0.424}, "y": {"datum": 0.2}, "y2": {"datum": -0.5}}},
{"data": {"values": [{}]}, "mark": {"type": "rule", "color": "#222222", "strokeWidth": 1.3}, "encoding": {"x": {"datum": -0.4}, "x2": {"datum": 0}, "y": {"datum": -0.541}}},
{"data": {"values": [{}]}, "mark": {"type": "rule", "color": "#1E2FC4", "strokeWidth": 1.6, "strokeDash": [4, 3]}, "encoding": {"y": {"datum": 0}}},
{"data": {"values": [{}]}, "mark": {"type": "rule", "color": "#E8261F", "strokeWidth": 1.6, "strokeDash": [4, 3]}, "encoding": {"x": {"datum": 0}, "y": {"datum": 0.2}, "y2": {"datum": -0.541}}},
{"encoding": {
  "x": {"field": "x", "type": "quantitative", "title": "Δmax [ATP]Mito by glucose deprivation", "scale": {"domain": [-0.424, 0], "nice": false, "zero": false}, "axis": {"title": "Δmax [ATP]Mito by glucose deprivation", "values": [-0.4, -0.3, -0.2, -0.1, 0], "tickCount": 20, "labelExpr": "datum.value == -0.4 ? '-0.4' : datum.value == -0.2 ? '-0.2' : datum.value == 0 ? '0.0' : ''", "domain": false, "titlePadding": 9, "titleX": 112}},
  "y": {"field": "y", "type": "quantitative", "title": "Δmax [ATP]Mito by oligomycin", "scale": {"domain": [-0.541, 0.2], "nice": false, "zero": false}, "axis": {"title": "Δmax [ATP]Mito by oligomycin", "values": [-0.4, -0.3, -0.2, -0.1, 0, 0.1, 0.2], "tickCount": 20, "labelExpr": "datum.value == 0.2 ? '0.2' : datum.value == 0 ? '-0.0' : datum.value == -0.2 ? '-0.2' : datum.value == -0.4 ? '-0.4' : ''", "domain": false, "titlePadding": 4}},
  "shape": {"field": "cell", "type": "nominal", "scale": {"domain": ["HeLa", "INS-1", "MDA-MB231"], "range": ["circle", "square", "triangle-down"]}, "legend": {"title": null, "orient": "none", "legendX": 4.5, "legendY": 151.7, "symbolSize": 100, "labelOffset": 10, "labelFontWeight": {"expr": "datum.value === 'HeLa' || datum.value === 'INS-1' ? 'normal' : 'bold'"}, "encode": {"symbols": {"size": {"condition": [{"test": "datum.value === 'HeLa'", "value": 64}, {"test": "datum.value === 'INS-1'", "value": 56}], "value": 100}}}}},
  "fill": {"field": "cell", "type": "nominal", "scale": {"domain": ["HeLa", "INS-1", "MDA-MB231"], "range": ["#8F8FF5", "#F8A0A0", "#8C5A1C"]}, "legend": {"title": null, "orient": "none", "legendX": 4.5, "legendY": 151.7, "symbolSize": 100, "labelOffset": 10, "labelFontWeight": {"expr": "datum.value === 'HeLa' || datum.value === 'INS-1' ? 'normal' : 'bold'"}, "encode": {"symbols": {"size": {"condition": [{"test": "datum.value === 'HeLa'", "value": 64}, {"test": "datum.value === 'INS-1'", "value": 56}], "value": 100}}}}},
  "stroke": {"field": "cell", "type": "nominal", "scale": {"domain": ["HeLa", "INS-1", "MDA-MB231"], "range": ["transparent", "transparent", "#8C5A1C"]}, "legend": {"title": null, "orient": "none", "legendX": 4.5, "legendY": 151.7, "symbolSize": 100, "labelOffset": 10, "labelFontWeight": {"expr": "datum.value === 'HeLa' || datum.value === 'INS-1' ? 'normal' : 'bold'"}, "encode": {"symbols": {"size": {"condition": [{"test": "datum.value === 'HeLa'", "value": 64}, {"test": "datum.value === 'INS-1'", "value": 56}], "value": 100}}}}}
 },
 "layer": [
  {"data": {"name": "hela"}, "mark": {"type": "point", "filled": true, "opacity": 1, "size": 69, "strokeWidth": 0}},
  {"data": {"name": "ins1"}, "mark": {"type": "point", "filled": true, "opacity": 1, "size": 64, "strokeWidth": 0}},
  {"data": {"name": "lines"}, "transform": [{"filter": "datum.cell === 'MDA-MB231'"}], "mark": {"type": "point", "filled": true, "opacity": 1, "size": 100, "strokeWidth": 1}}
 ]},
{"data": {"name": "means"}, "transform": [{"filter": "datum.cell === 'MDA-MB231'"}], "mark": {"type": "errorbar", "ticks": true, "size": 10, "thickness": 1.6, "color": "#9A6426"}, "encoding": {"x": {"field": "xlo", "type": "quantitative", "title": "Δmax [ATP]Mito by glucose deprivation"}, "x2": {"field": "xhi"}, "y": {"field": "y", "type": "quantitative", "title": "Δmax [ATP]Mito by oligomycin"}}},
{"data": {"name": "means"}, "transform": [{"filter": "datum.cell === 'MDA-MB231'"}], "mark": {"type": "errorbar", "ticks": true, "size": 10, "thickness": 1.6, "color": "#9A6426"}, "encoding": {"x": {"field": "x", "type": "quantitative", "title": "Δmax [ATP]Mito by glucose deprivation"}, "y": {"field": "ylo", "type": "quantitative", "title": "Δmax [ATP]Mito by oligomycin"}, "y2": {"field": "yhi"}}},
{"data": {"name": "means"}, "transform": [{"filter": "datum.cell === 'MDA-MB231'"}], "mark": {"type": "point", "filled": true, "opacity": 1, "shape": "triangle-down", "size": 177, "fill": "#F5B77A", "stroke": "#9A6426", "strokeWidth": 1.2}, "encoding": {"x": {"field": "x", "type": "quantitative", "title": "Δmax [ATP]Mito by glucose deprivation"}, "y": {"field": "y", "type": "quantitative", "title": "Δmax [ATP]Mito by oligomycin"}}}
]
},
{
"width": 238.8, "height": 238.2,
"title": {"text": "H", "dx": -89.5, "offset": 4.8},
"layer": [
{"data": {"values": [{}]}, "mark": {"type": "rule", "color": "#222222", "strokeWidth": 1.3}, "encoding": {"x": {"datum": -0.424}, "y": {"datum": 0.2}, "y2": {"datum": -0.5}}},
{"data": {"values": [{}]}, "mark": {"type": "rule", "color": "#222222", "strokeWidth": 1.3}, "encoding": {"x": {"datum": -0.4}, "x2": {"datum": 0}, "y": {"datum": -0.541}}},
{"data": {"values": [{}]}, "mark": {"type": "rule", "color": "#1E2FC4", "strokeWidth": 1.6, "strokeDash": [4, 3]}, "encoding": {"y": {"datum": 0}}},
{"data": {"values": [{}]}, "mark": {"type": "rule", "color": "#E8261F", "strokeWidth": 1.6, "strokeDash": [4, 3]}, "encoding": {"x": {"datum": 0}, "y": {"datum": 0.2}, "y2": {"datum": -0.541}}},
{"encoding": {
  "x": {"field": "x", "type": "quantitative", "title": "Δmax [ATP]Mito by glucose deprivation", "scale": {"domain": [-0.424, 0], "nice": false, "zero": false}, "axis": {"title": "Δmax [ATP]Mito by glucose deprivation", "values": [-0.4, -0.3, -0.2, -0.1, 0], "tickCount": 20, "labelExpr": "datum.value == -0.4 ? '-0.4' : datum.value == -0.2 ? '-0.2' : datum.value == 0 ? '0.0' : ''", "domain": false, "titlePadding": 9, "titleX": 112}},
  "y": {"field": "y", "type": "quantitative", "title": "Δmax [ATP]Mito by oligomycin", "scale": {"domain": [-0.541, 0.2], "nice": false, "zero": false}, "axis": {"title": "Δmax [ATP]Mito by oligomycin", "values": [-0.4, -0.3, -0.2, -0.1, 0, 0.1, 0.2], "tickCount": 20, "labelExpr": "datum.value == 0.2 ? '0.2' : datum.value == 0 ? '-0.0' : datum.value == -0.2 ? '-0.2' : datum.value == -0.4 ? '-0.4' : ''", "domain": false, "titlePadding": 4}},
  "shape": {"field": "cell", "type": "nominal", "scale": {"domain": ["HeLa", "INS-1", "SH-SY5Y"], "range": ["circle", "square", "M-1,0L-0.5,-0.866L0.5,-0.866L1,0L0.5,0.866L-0.5,0.866Z"]}, "legend": {"title": null, "orient": "none", "legendX": 5.3, "legendY": 151.7, "symbolSize": 100, "labelOffset": 10, "labelFontWeight": {"expr": "datum.value === 'HeLa' || datum.value === 'INS-1' ? 'normal' : 'bold'"}, "encode": {"symbols": {"size": {"condition": [{"test": "datum.value === 'HeLa'", "value": 64}, {"test": "datum.value === 'INS-1'", "value": 56}], "value": 100}}}}},
  "fill": {"field": "cell", "type": "nominal", "scale": {"domain": ["HeLa", "INS-1", "SH-SY5Y"], "range": ["#8F8FF5", "#F8A0A0", "#13925A"]}, "legend": {"title": null, "orient": "none", "legendX": 5.3, "legendY": 151.7, "symbolSize": 100, "labelOffset": 10, "labelFontWeight": {"expr": "datum.value === 'HeLa' || datum.value === 'INS-1' ? 'normal' : 'bold'"}, "encode": {"symbols": {"size": {"condition": [{"test": "datum.value === 'HeLa'", "value": 64}, {"test": "datum.value === 'INS-1'", "value": 56}], "value": 100}}}}},
  "stroke": {"field": "cell", "type": "nominal", "scale": {"domain": ["HeLa", "INS-1", "SH-SY5Y"], "range": ["transparent", "transparent", "#13925A"]}, "legend": {"title": null, "orient": "none", "legendX": 5.3, "legendY": 151.7, "symbolSize": 100, "labelOffset": 10, "labelFontWeight": {"expr": "datum.value === 'HeLa' || datum.value === 'INS-1' ? 'normal' : 'bold'"}, "encode": {"symbols": {"size": {"condition": [{"test": "datum.value === 'HeLa'", "value": 64}, {"test": "datum.value === 'INS-1'", "value": 56}], "value": 100}}}}}
 },
 "layer": [
  {"data": {"name": "hela"}, "mark": {"type": "point", "filled": true, "opacity": 1, "size": 69, "strokeWidth": 0}},
  {"data": {"name": "ins1"}, "mark": {"type": "point", "filled": true, "opacity": 1, "size": 64, "strokeWidth": 0}},
  {"data": {"name": "lines"}, "transform": [{"filter": "datum.cell === 'SH-SY5Y'"}], "mark": {"type": "point", "filled": true, "opacity": 1, "size": 100, "strokeWidth": 1}}
 ]},
{"data": {"name": "means"}, "transform": [{"filter": "datum.cell === 'SH-SY5Y'"}], "mark": {"type": "errorbar", "ticks": true, "size": 10, "thickness": 1.6, "color": "#1E9C5C"}, "encoding": {"x": {"field": "xlo", "type": "quantitative", "title": "Δmax [ATP]Mito by glucose deprivation"}, "x2": {"field": "xhi"}, "y": {"field": "y", "type": "quantitative", "title": "Δmax [ATP]Mito by oligomycin"}}},
{"data": {"name": "means"}, "transform": [{"filter": "datum.cell === 'SH-SY5Y'"}], "mark": {"type": "errorbar", "ticks": true, "size": 10, "thickness": 1.6, "color": "#1E9C5C"}, "encoding": {"x": {"field": "x", "type": "quantitative", "title": "Δmax [ATP]Mito by glucose deprivation"}, "y": {"field": "ylo", "type": "quantitative", "title": "Δmax [ATP]Mito by oligomycin"}, "y2": {"field": "yhi"}}},
{"data": {"name": "means"}, "transform": [{"filter": "datum.cell === 'SH-SY5Y'"}], "mark": {"type": "point", "filled": true, "opacity": 1, "shape": "M-1,0L-0.5,-0.866L0.5,-0.866L1,0L0.5,0.866L-0.5,0.866Z", "size": 177, "fill": "#B0F5B0", "stroke": "#19A060", "strokeWidth": 1.5}, "encoding": {"x": {"field": "x", "type": "quantitative", "title": "Δmax [ATP]Mito by glucose deprivation"}, "y": {"field": "y", "type": "quantitative", "title": "Δmax [ATP]Mito by oligomycin"}}}
]
}
],
"resolve": {
 "scale": {"x": "independent", "y": "independent", "shape": "independent", "fill": "independent", "stroke": "independent", "color": "independent"},
 "axis": {"x": "independent", "y": "independent"},
 "legend": {"shape": "independent", "fill": "independent", "stroke": "independent", "color": "independent"}
},
"config": {
 "font": "Liberation Sans",
 "view": {"stroke": null},
 "axis": {"labelFont": "Liberation Sans", "labelFontSize": 18.5, "labelColor": "#111111", "titleFont": "Liberation Sans", "titleFontSize": 18, "titleFontWeight": "normal", "titleColor": "#111111", "tickColor": "#222222", "tickSize": 5, "tickWidth": 1.3, "domainColor": "#222222", "domainWidth": 1.3, "gridColor": "#C9C9C9", "gridWidth": 1.2, "labelPadding": 4, "labelFlush": false, "labelOverlap": false, "labelBound": false, "titleLimit": 1000},
 "legend": {"labelFont": "Liberation Sans", "labelFontSize": 18, "labelColor": "#111111", "padding": 0, "rowPadding": 13, "symbolStrokeWidth": 1, "labelLimit": 400},
 "title": {"font": "Liberation Sans", "fontSize": 18, "fontWeight": "bold", "anchor": "start", "frame": "group", "baseline": "alphabetic", "color": "#111111"}
}
}
